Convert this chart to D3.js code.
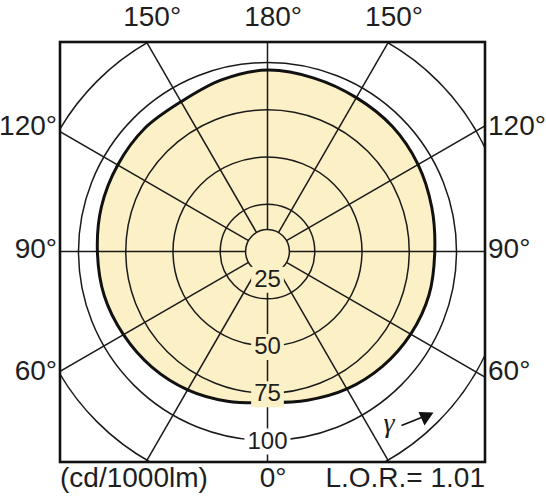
<!DOCTYPE html>
<html>
<head>
<meta charset="utf-8">
<script src="https://cdn.jsdelivr.net/npm/d3@7"></script>
<style>
body { margin: 0; background: #fff; }
svg text { font-family: "Liberation Sans", Arial, sans-serif; fill: #1e1e1e; }
</style>
</head>
<body>
<div id="chart"></div>
<script>
/* polar light distribution diagram, cd/1000lm */

// gamma angles (0 = straight down) and intensities for both half planes
let gammaAngles = [0, 15, 30, 45, 60, 75, 90, 105, 120, 135, 150, 165, 180];
let intensityRight = [80, 81.5, 84, 86, 87.5, 88.5, 88.5, 90, 92, 93.5, 94, 95, 96];
let intensityLeft = [80, 82, 84.5, 86.5, 88, 89.5, 90, 91, 91.5, 92, 91.5, 94, 96];

let ringValues = [25, 50, 75, 100];
let outerRing = 127.5;
let hubValue = 11.6;
let spokeAngles = [0, 30, 60, 90, 120, 150, 180, 210, 240, 270, 300, 330];
let topLabels = [150, 180, 150];
let sideLabels = [120, 90, 60];
let unitLabel = "(cd/1000lm)";
let lorLabel = "L.O.R.= 1.01";

let width = 546, height = 500;
let frame = {left: 60, right: 485, top: 42, bottom: 462};
let cx = 267.5, cy = 251.5;
let fillColor = "#fcf0c6";
let lineColor = "#1a1a1a";

let svg = d3.select("#chart").append("svg")
    .attr("width", width)
    .attr("height", height);

let r = d3.scaleLinear().domain([0, 100]).range([0, 189]);

svg.append("clipPath").attr("id", "frame-clip")
    .append("rect")
    .attr("x", frame.left).attr("y", frame.top)
    .attr("width", frame.right - frame.left)
    .attr("height", frame.bottom - frame.top);

let plot = svg.append("g").attr("clip-path", "url(#frame-clip)");
let g = plot.append("g").attr("transform", "translate(" + cx + "," + cy + ")");

// build closed curve: right side goes bottom -> right -> top, left side top -> left -> bottom
let toRad = Math.PI / 180;
let pts = [];
gammaAngles.forEach(function (a, i) {
    pts.push([Math.PI - a * toRad, r(intensityRight[i])]);
});
for (let i = gammaAngles.length - 2; i > 0; i--) {
    pts.push([Math.PI + gammaAngles[i] * toRad, r(intensityLeft[i])]);
}

let curve = d3.lineRadial()
    .angle(function (d) { return d[0]; })
    .radius(function (d) { return d[1]; })
    .curve(d3.curveCatmullRomClosed.alpha(0.5));

g.append("path")
    .attr("d", curve(pts))
    .attr("fill", fillColor)
    .attr("stroke", "none");

// grid rings
g.selectAll(".ring")
    .data(ringValues.concat([outerRing, hubValue]))
    .enter().append("circle")
    .attr("r", function (d) { return r(d); })
    .attr("fill", "none")
    .attr("stroke", lineColor)
    .attr("stroke-width", 1.5);

// spokes
g.selectAll(".spoke")
    .data(spokeAngles)
    .enter().append("line")
    .attr("x1", function (d) { return Math.sin(d * toRad) * r(hubValue); })
    .attr("y1", function (d) { return Math.cos(d * toRad) * r(hubValue); })
    .attr("x2", function (d) { return Math.sin(d * toRad) * 400; })
    .attr("y2", function (d) { return Math.cos(d * toRad) * 400; })
    .attr("stroke", lineColor)
    .attr("stroke-width", 1.5);

g.append("path")
    .attr("d", curve(pts))
    .attr("fill", "none")
    .attr("stroke", "#111")
    .attr("stroke-width", 3)
    .attr("stroke-linejoin", "round");

// ring labels with a background patch
ringValues.forEach(function (v) {
    let dy = v === ringValues[0] ? -20 : 0;
    let lab = g.append("g");
    let t = lab.append("text")
        .attr("x", 0)
        .attr("y", r(v) + dy + 8)
        .attr("text-anchor", "middle")
        .style("font-size", "24px")
        .text(v);
    let bb = t.node().getBBox();
    lab.insert("rect", "text")
        .attr("x", bb.x - 3).attr("y", bb.y + 2)
        .attr("width", bb.width + 6).attr("height", bb.height - 1)
        .attr("fill", v <= intensityRight[0] ? fillColor : "#fff");
});

// frame
svg.append("rect")
    .attr("x", frame.left).attr("y", frame.top)
    .attr("width", frame.right - frame.left)
    .attr("height", frame.bottom - frame.top)
    .attr("fill", "none")
    .attr("stroke", "#111")
    .attr("stroke-width", 2.6);

// angle labels, digits centered on where the spoke hits the frame
let labelSize = "28px";
let measure = function (s) {
    let tmp = svg.append("text").style("font-size", labelSize).text(s);
    let w = tmp.node().getComputedTextLength();
    tmp.remove();
    return w;
};

topLabels.forEach(function (a, i) {
    let side = i - 1;
    let x = cx + side * (cy - frame.top) * Math.tan((180 - a) * toRad);
    svg.append("text")
        .attr("x", x - measure(String(a)) / 2)
        .attr("y", frame.top - 16)
        .style("font-size", labelSize)
        .text(a + "°");
});

let halfW = (frame.right - frame.left) / 2;
sideLabels.forEach(function (a) {
    let y = cy + halfW / Math.tan(a * toRad) + 6;
    svg.append("text")
        .attr("x", frame.left - 3)
        .attr("y", y)
        .attr("text-anchor", "end")
        .style("font-size", labelSize)
        .text(a + "°");
    svg.append("text")
        .attr("x", frame.right + 3)
        .attr("y", y)
        .style("font-size", labelSize)
        .text(a + "°");
});

svg.append("text")
    .attr("x", cx - measure("0") / 2)
    .attr("y", frame.bottom + 25)
    .style("font-size", labelSize)
    .text("0°");

svg.append("text")
    .attr("x", frame.left)
    .attr("y", frame.bottom + 25)
    .style("font-size", labelSize)
    .text(unitLabel);

svg.append("text")
    .attr("x", frame.right)
    .attr("y", frame.bottom + 25)
    .attr("text-anchor", "end")
    .style("font-size", labelSize)
    .text(lorLabel);

// gamma direction arrow
svg.append("text")
    .attr("x", cx + 116)
    .attr("y", cy + 180)
    .style("font-family", "'Liberation Serif', serif")
    .style("font-style", "italic")
    .style("font-size", "28px")
    .text("γ");
svg.append("line")
    .attr("x1", cx + 134).attr("y1", cy + 174)
    .attr("x2", cx + 154).attr("y2", cy + 166)
    .attr("stroke", "#111")
    .attr("stroke-width", 1.6);
svg.append("path")
    .attr("d", "M" + (cx + 166) + "," + (cy + 161) +
        "L" + (cx + 151) + "," + (cy + 160.5) +
        "L" + (cx + 157) + "," + (cy + 174) + "Z")
    .attr("fill", "#111");
</script>
</body>
</html>
